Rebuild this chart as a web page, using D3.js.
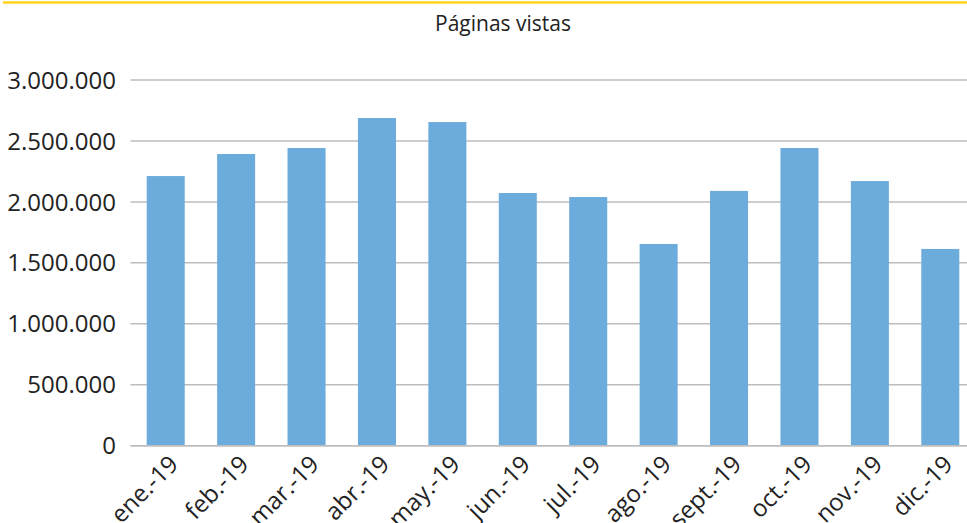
<!DOCTYPE html>
<html>
<head>
<meta charset="utf-8">
<script src="https://cdn.jsdelivr.net/npm/d3@7"></script>
<style>
  html, body { margin: 0; padding: 0; background: #fff; overflow: hidden; }
  svg { display: block; font-family: "Open Sans", "Noto Sans", sans-serif; }
</style>
</head>
<body>
<svg id="chart" width="967" height="523"></svg>
<script>
const title = "Páginas vistas";
const categories = ["ene.-19", "feb.-19", "mar.-19", "abr.-19", "may.-19", "jun.-19",
                    "jul.-19", "ago.-19", "sept.-19", "oct.-19", "nov.-19", "dic.-19"];
const values = [2212000, 2393000, 2442000, 2688000, 2655000, 2073000,
                2040000, 1655000, 2090000, 2442000, 2171000, 1614000];
const yTicks = [0, 500000, 1000000, 1500000, 2000000, 2500000, 3000000];

const svg = d3.select("#chart");
const W = 967, H = 523;
const plot = { left: 130.5, right: 975.5, top: 80, bottom: 445.7 };

// top yellow border
svg.append("line")
  .attr("x1", 3).attr("x2", W).attr("y1", 2.5).attr("y2", 2.5)
  .attr("stroke", "#FFD51E").attr("stroke-width", 2.5);

// title
svg.append("text")
  .attr("x", 503).attr("y", 31)
  .attr("text-anchor", "middle")
  .attr("font-size", 21).attr("fill", "#222")
  .text(title);

const x = d3.scaleBand().domain(categories)
  .range([plot.left, plot.right]).paddingInner(0.46).paddingOuter(0.23);
const y = d3.scaleLinear().domain([0, 3000000]).range([plot.bottom, plot.top]);

const fmt = v => d3.format(",")(v).replace(/,/g, ".");

// gridlines
svg.append("g").selectAll("line").data(yTicks).join("line")
  .attr("x1", plot.left).attr("x2", W)
  .attr("y1", d => y(d)).attr("y2", d => y(d))
  .attr("stroke", "#BDBDBD").attr("stroke-width", 1.5);

// y labels
svg.append("g").selectAll("text").data(yTicks).join("text")
  .attr("x", 116).attr("y", d => y(d))
  .attr("dy", "0.36em")
  .attr("text-anchor", "end")
  .attr("font-size", 24).attr("fill", "#222")
  .text(d => fmt(d));

// bars
svg.append("g").selectAll("rect").data(values).join("rect")
  .attr("x", (d, i) => x(categories[i]))
  .attr("width", x.bandwidth())
  .attr("y", d => y(d))
  .attr("height", d => y(0) - y(d))
  .attr("fill", "#6CACDC");

// redraw zero line above bars
svg.append("line")
  .attr("x1", plot.left).attr("x2", W)
  .attr("y1", y(0)).attr("y2", y(0))
  .attr("stroke", "#BDBDBD").attr("stroke-width", 1.5);

// x labels
svg.append("g").selectAll("text").data(categories).join("text")
  .attr("transform", d => `translate(${x(d) + x.bandwidth() / 2 + 14},${y(0) + 20}) rotate(-45)`)
  .attr("text-anchor", "end")
  .attr("font-size", 24).attr("fill", "#222")
  .text(d => d);
</script>
</body>
</html>
